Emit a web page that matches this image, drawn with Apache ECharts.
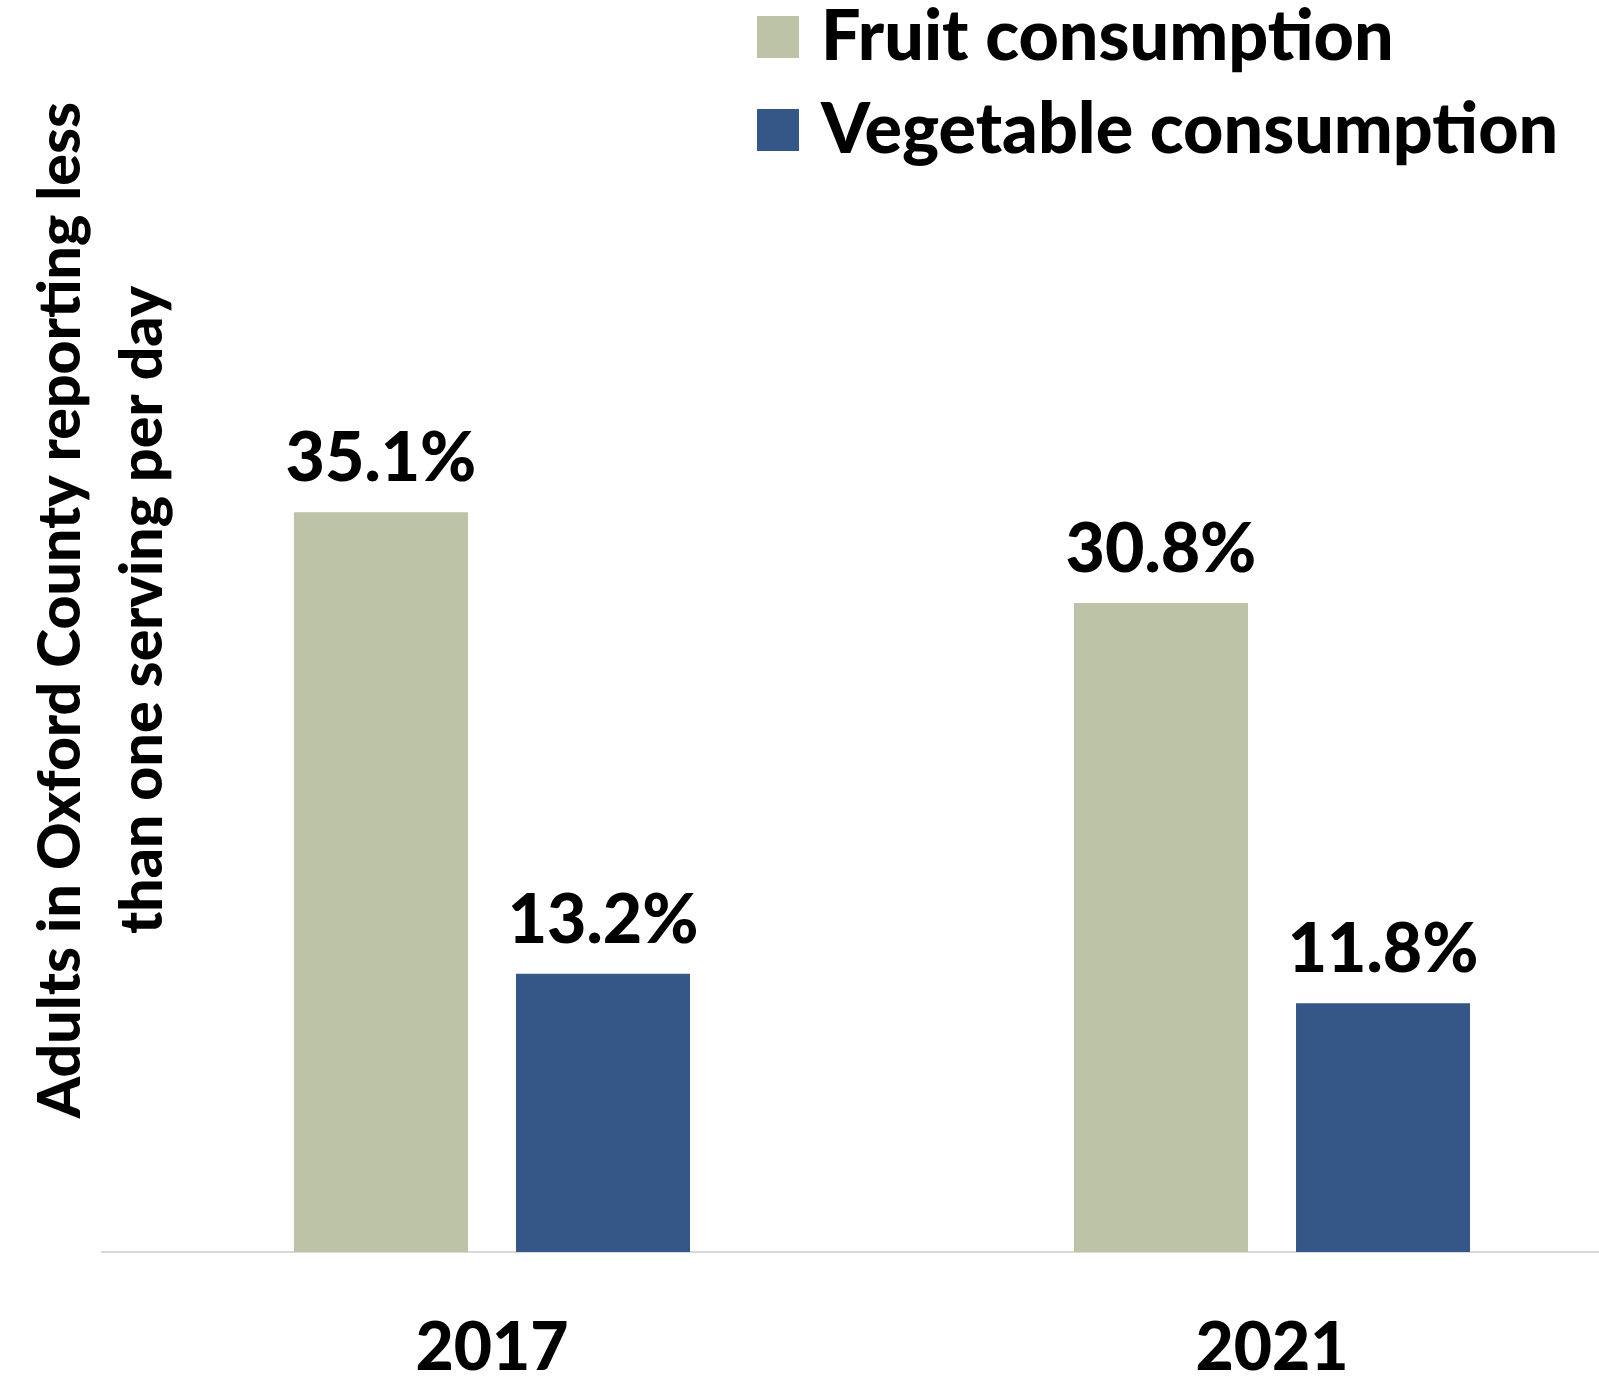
<!DOCTYPE html>
<html>
<head>
<meta charset="utf-8">
<script src="https://cdn.jsdelivr.net/npm/echarts@6/dist/echarts.min.js"></script>
<style>
  html, body { margin: 0; padding: 0; background: #fff; }
  #chart { width: 1599px; height: 1380px; }
</style>
</head>
<body>
<div id="chart"></div>
<script>
const years = ['2017', '2021']
const fruitValues = [35.1, 30.8]
const vegetableValues = [13.2, 11.8]
const seriesNames = ['Fruit consumption', 'Vegetable consumption']
const yTitleLines = ['Adults in Oxford County reporting less', 'than one serving per day']

const FONT = 'Lato, "Open Sans", sans-serif'
const WEIGHT = 900

let myChart = echarts.init(document.getElementById('chart'))

// 数据标签
const barLabel = {
  show: true,
  position: 'top',
  distance: 19,
  formatter: '{c}%',
  color: '#000',
  fontFamily: FONT,
  fontWeight: WEIGHT,
  fontSize: 68
}

let option = {
  backgroundColor: '#fff',
  animation: false,
  legend: {
    orient: 'vertical',
    left: 757,
    top: 2,
    padding: 0,
    itemWidth: 42,
    itemHeight: 42,
    itemGap: 23,
    icon: 'rect',
    textStyle: {
      color: '#000',
      fontFamily: FONT,
      fontWeight: WEIGHT,
      fontSize: 70,
      lineHeight: 70,
      padding: [0, 0, 0, 17]
    },
    data: seriesNames
  },
  grid: {
    left: 102,
    top: 409,
    width: 1560,
    height: 843,
    containLabel: false,
    outerBoundsMode: 'none'
  },
  xAxis: {
    type: 'category',
    data: years,
    axisTick: { show: false },
    axisLine: { lineStyle: { color: '#d9d9d9', width: 2 } },
    axisLabel: {
      color: '#000',
      fontFamily: FONT,
      fontWeight: WEIGHT,
      fontSize: 66,
      margin: 64
    }
  },
  yAxis: {
    type: 'value',
    min: 0,
    max: 40,
    show: false,
    splitLine: { show: false }
  },
  // 纵轴标题
  graphic: [{
    type: 'text',
    x: 102,
    y: 610,
    rotation: Math.PI / 2,
    style: {
      text: yTitleLines.join('\n'),
      fill: '#000',
      font: WEIGHT + ' 59px ' + FONT,
      lineHeight: 82,
      align: 'center',
      verticalAlign: 'middle'
    }
  }],
  series: [{
    name: seriesNames[0],
    type: 'bar',
    data: fruitValues,
    barWidth: 174,
    barGap: '27.6%',
    itemStyle: { color: '#bcc3a6' },
    label: barLabel
  }, {
    name: seriesNames[1],
    type: 'bar',
    data: vegetableValues,
    barWidth: 174,
    itemStyle: { color: '#355787' },
    label: barLabel
  }]
}
myChart.setOption(option)
</script>
</body>
</html>
